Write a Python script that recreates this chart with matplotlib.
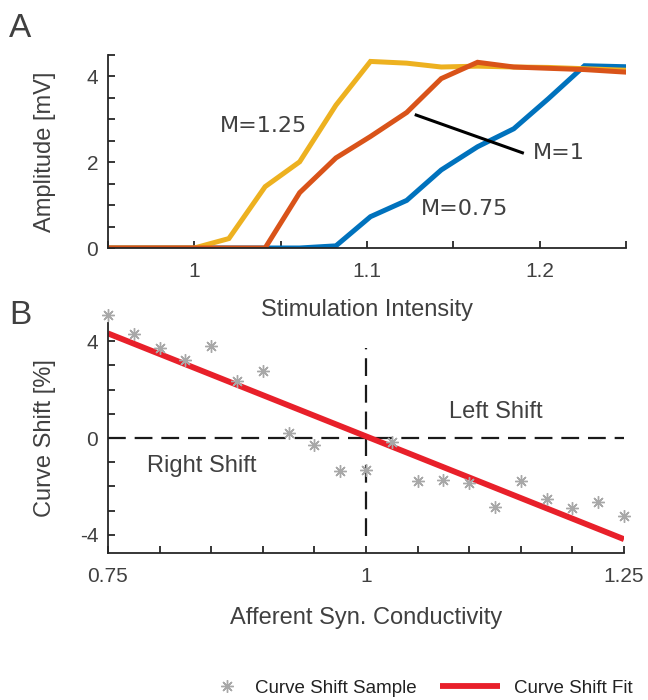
import numpy as np
import matplotlib
matplotlib.use("Agg")
import matplotlib.pyplot as plt
from matplotlib.lines import Line2D

plt.rcParams['font.family'] = ['Liberation Sans', 'DejaVu Sans']

# panel A: recruitment curves for three modulation levels
stim = [0.94, 0.959, 0.98, 1.0, 1.02, 1.041, 1.061, 1.082, 1.102, 1.123, 1.143,
        1.164, 1.185, 1.205, 1.226, 1.246, 1.267]
amp_m075 = [0, 0, 0, 0, 0, 0, 0.0, 0.05, 0.73, 1.11, 1.82, 2.36, 2.78, 3.48,
            4.25, 4.23, 4.21]
amp_m125 = [0, 0, 0, 0, 0.22, 1.43, 2.01, 3.33, 4.35, 4.31, 4.22, 4.24, 4.22,
            4.21, 4.18, 4.15, 4.12]
amp_m1 = [0, 0, 0, 0, 0, 0, 1.29, 2.10, 2.60, 3.16, 3.95, 4.33, 4.22, 4.19,
          4.16, 4.11, 4.06]

# panel B: curve shift vs afferent conductivity
cond = np.arange(21) * 0.025 + 0.75
shift = [5.1, 4.28, 3.70, 3.24, 3.82, 2.37, 2.76, 0.21, -0.30, -1.38, -1.31,
         -0.18, -1.79, -1.72, -1.86, -2.83, -1.77, -2.51, -2.90, -2.66, -3.21]
fit_x = [0.75, 1.25]
fit_y = [4.32, -4.18]
vline_y = [-4.05, 3.7]

txt = '#404040'
ax_col = '#262626'
blue, orange, yellow = '#0072BD', '#D95319', '#EDB120'
red = '#E8202A'
grey = '#A8A8A8'


def style(ax):
    for s in ['top', 'right']:
        ax.spines[s].set_visible(False)
    for s in ['left', 'bottom']:
        ax.spines[s].set_linewidth(1.3)
        ax.spines[s].set_color(ax_col)
    ax.tick_params(direction='in', length=5, width=1.3, color=ax_col,
                   labelcolor=txt, labelsize=15)
    ax.tick_params(axis='x', pad=10)
    ax.tick_params(axis='y', pad=7)


fig = plt.figure(figsize=(6.48, 7.0), dpi=100)

# ---- A
axA = fig.add_axes([108/648, 1-248/700, 518/648, 193/700])
axA.plot(stim, amp_m075, color=blue, lw=3.6, solid_joinstyle='miter')
axA.plot(stim, amp_m125, color=yellow, lw=3.6, solid_joinstyle='miter')
axA.plot(stim, amp_m1, color=orange, lw=3.6, solid_joinstyle='miter')
axA.set_xlim(0.95, 1.25)
axA.set_ylim(0, 4.5)
xt = np.arange(7) * 0.05 + 0.95
axA.set_xticks(xt)
axA.set_xticklabels(['', '1', '', '1.1', '', '1.2', ''])
yt = np.arange(10) * 0.5
axA.set_yticks(yt)
axA.set_yticklabels(['0', '', '', '', '2', '', '', '', '4', ''])
style(axA)
axA.set_xlabel('Stimulation Intensity', fontsize=17, color=txt)
axA.xaxis.set_label_coords(0.5, -0.265)
axA.set_ylabel('Amplitude [mV]', fontsize=17, color=txt)
axA.yaxis.set_label_coords(-0.10, 0.5)

mfont = ['DejaVu Sans']
axA.text(1.015, 2.85, 'M=1.25', fontsize=16, color=txt, va='center',
         family=mfont)
axA.text(1.196, 2.21, 'M=1', fontsize=16, color=txt, va='center',
         family=mfont)
axA.text(1.131, 0.91, 'M=0.75', fontsize=16, color=txt, va='center',
         family=mfont)
axA.plot([1.1285, 1.19], [3.10, 2.22], color='black', lw=2.2)

# ---- B
axB = fig.add_axes([108/648, 1-553/700, 516/648, 230/700])
axB.axhline(0, color='#1a1a1a', lw=1.6, dashes=(8, 4))
axB.plot([1.0, 1.0], vline_y, color='#1a1a1a', lw=1.6, dashes=(8, 4))
axB.plot(fit_x, fit_y, color=red, lw=4.2, solid_capstyle='butt')
axB.plot(cond, shift, ls='none', marker=(8, 2, 0), ms=9, mew=1.0,
         color=grey, clip_on=False)
axB.set_xlim(0.75, 1.25)
axB.set_ylim(-4.75, 4.75)
bx = np.arange(11) * 0.05 + 0.75
axB.set_xticks(bx)
axB.set_xticklabels(['0.75', '', '', '', '', '1', '', '', '', '', '1.25'])
by = np.arange(-4, 5)
axB.set_yticks(by)
axB.set_yticklabels(['-4', '', '', '', '0', '', '', '', '4'])
style(axB)
axB.set_xlabel('Afferent Syn. Conductivity', fontsize=17, color=txt)
axB.xaxis.set_label_coords(0.5, -0.235)
axB.set_ylabel('Curve Shift [%]', fontsize=17, color=txt)
axB.yaxis.set_label_coords(-0.10, 0.5)
axB.text(1.08, 1.06, 'Left Shift', fontsize=17, color=txt, va='center')
axB.text(0.788, -1.17, 'Right Shift', fontsize=17, color=txt, va='center')

fig.text(0.014, 1-13/700, 'A', fontsize=24, color=txt, va='top')
fig.text(0.014, 1-300/700, 'B', fontsize=24, color=txt, va='top')

# legend, split in two so each handle gets its own length
h_sample = Line2D([], [], ls='none', marker=(8, 2, 0), ms=9, mew=1.0,
                  color=grey)
h_fit = Line2D([], [], color=red, lw=4.2, solid_capstyle='butt')
leg_kw = dict(loc='center left', frameon=False, fontsize=13.5,
              borderpad=0, borderaxespad=0, labelcolor='#222222')
fig.legend([h_sample], ['Curve Shift Sample'],
           bbox_to_anchor=(218/648, 1-688/700), handlelength=1.0,
           handletextpad=0.95, **leg_kw)
fig.legend([h_fit], ['Curve Shift Fit'],
           bbox_to_anchor=(440/648, 1-688/700), handlelength=3.2,
           handletextpad=0.75, **leg_kw)

fig.savefig('out.png', dpi=100)
